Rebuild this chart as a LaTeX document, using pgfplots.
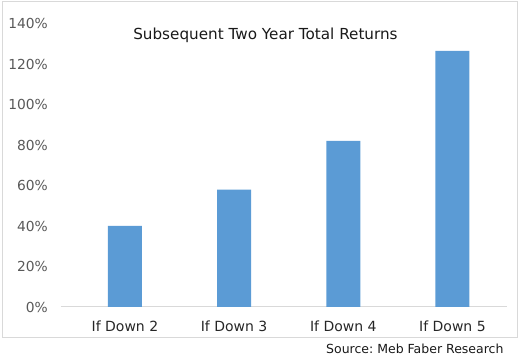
\documentclass[border=0pt]{standalone}
\usepackage{pgfplots}
\pgfplotsset{compat=1.18}
\usepackage{fontspec}
\setmainfont{DejaVu Sans}
\frenchspacing
\definecolor{barblue}{HTML}{5B9BD5}
\definecolor{ticktxt}{HTML}{595959}
\definecolor{frame}{HTML}{D9D9D9}
\begin{document}
\begin{tikzpicture}[x=1pt,y=1pt]
\useasboundingbox (0,0) rectangle (520,361);
\draw[frame, line width=1pt] (2,359) rectangle (517.5,23.5);
\begin{axis}[
  at={(61pt,54pt)}, anchor=south west,
  scale only axis, width=446pt, height=283.5pt,
  xmin=-0.586, xmax=3.5, ymin=0, ymax=140,
  ytick={0,20,...,140},
  yticklabel={\pgfmathprintnumber{\tick}\%},
  xtick={0,1,2,3},
  xticklabels={If Down 2, If Down 3, If Down 4, If Down 5},
  /pgf/number format/assume math mode=true,
  axis x line*=bottom, axis y line*=left,
  y axis line style={draw=none},
  x axis line style={draw=frame, line width=1pt},
  major tick length=0pt,
  yticklabel style={font=\fontsize{13.8}{15}\selectfont, text=ticktxt, inner sep=0pt, xshift=-13pt},
  xticklabel style={font=\fontsize{14}{16}\selectfont, text=black!85, inner sep=0pt, yshift=-14pt},
  clip=false,
]
\addplot[ybar, bar width=34pt, fill=barblue, draw=none] coordinates {(0,40) (1,58) (2,82) (3,126.5)};
\node[font=\fontsize{15.2}{17}\selectfont, text=black!90] at (axis cs:1.287,134) {Subsequent Two Year Total Returns};
\end{axis}
\node[anchor=east, font=\fontsize{12.5}{14}\selectfont, text=black!90] at (507,12) {Source: Meb Faber Research};
\end{tikzpicture}
\end{document}
